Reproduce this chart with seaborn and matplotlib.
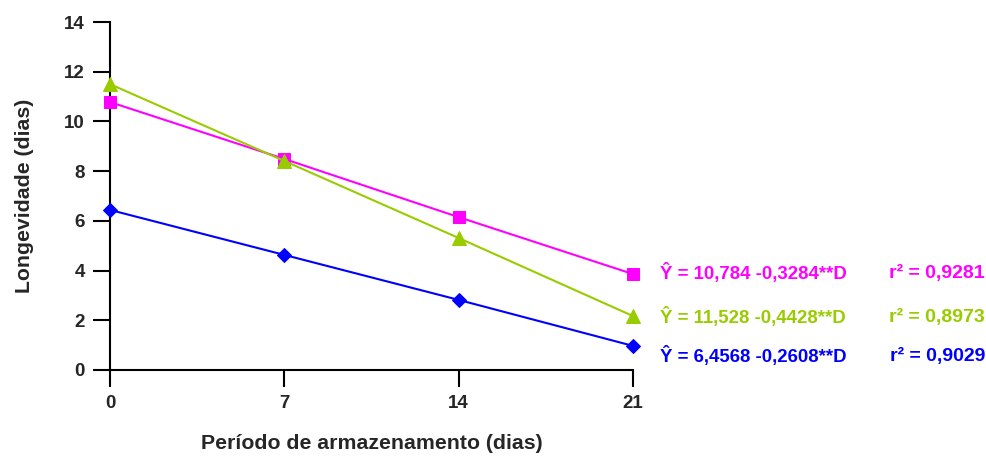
import matplotlib
matplotlib.use("Agg")
import matplotlib.pyplot as plt
import seaborn as sns
import pandas as pd

sns.set_theme(style="white")
plt.rcParams['font.family'] = ['Liberation Sans', 'DejaVu Sans']
plt.rcParams['font.weight'] = 'bold'

dias = [0, 7, 14, 21]
serie_rosa = [10.78, 8.49, 6.15, 3.86]
serie_verde = [11.50, 8.41, 5.31, 2.17]
serie_azul = [6.44, 4.63, 2.82, 0.97]
eq_labels = ["Ŷ = 10,784 -0,3284**D", "Ŷ = 11,528 -0,4428**D", "Ŷ = 6,4568 -0,2608**D"]
r2_labels = ["r² = 0,9281", "r² = 0,8973", "r² = 0,9029"]
colors = ["#FF00FF", "#99CC00", "#0000FF"]
markers = ["s", "^", "D"]

df = pd.DataFrame({
    "x": dias * 3,
    "y": serie_rosa + serie_verde + serie_azul,
    "s": ["rosa"] * 4 + ["verde"] * 4 + ["azul"] * 4,
})

fig = plt.figure(figsize=(9.86, 4.57), dpi=100)
ax = fig.add_axes([110/986, 87/457, 523/986, 348/457])

for name, c, m, ms in zip(["rosa", "verde", "azul"], colors, markers, [9, 10, 7.5]):
    sub = df[df.s == name]
    sns.lineplot(data=sub, x="x", y="y", ax=ax, color=c, marker=m, markersize=ms,
                 markeredgecolor=c, linewidth=1.5, clip_on=False, zorder=3)

ax.set_xlim(0, 21)
ax.set_ylim(0, 14)
ax.set_xticks(dias)
ax.set_yticks(range(0, 15, 2))
for s in ["top", "right"]:
    ax.spines[s].set_visible(False)
for s in ["left", "bottom"]:
    ax.spines[s].set_color("black")
    ax.spines[s].set_linewidth(1.5)
ax.tick_params(axis="both", direction="out", length=12, width=1.5, color="black",
               labelsize=13.5, pad=6, bottom=True, left=True)
for lab in ax.get_xticklabels() + ax.get_yticklabels():
    lab.set_fontweight("bold")
ax.set_xlabel("Período de armazenamento (dias)", fontsize=15.3, fontweight="bold", labelpad=16)
ax.set_ylabel("Longevidade (dias)", fontsize=15.3, fontweight="bold", labelpad=22)

ys = [273, 317, 356]
for eq, r2, c, y in zip(eq_labels, r2_labels, colors, ys):
    fig.text(660/986, 1 - y/457, eq, color=c, fontsize=13.4, fontweight="bold", va="center", ha="left")
    fig.text(985/986, 1 - y/457, r2, color=c, fontsize=14, fontweight="bold", va="center", ha="right")

fig.savefig("out.png", dpi=100)
